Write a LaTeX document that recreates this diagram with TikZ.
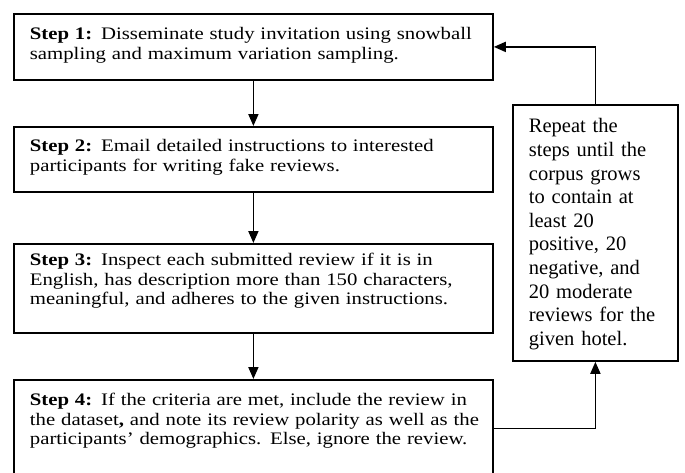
\documentclass[tikz,border=0pt]{standalone}
\usepackage{fontspec}
\setmainfont{Liberation Serif}
\newfontfamily\stepfont[FakeStretch=1.18]{Liberation Serif}
\usepackage{tikz}
\usetikzlibrary{arrows.meta}
\newcommand{\fcstep}[5] {\node at (#1) (#2) [anchor=north west, draw, line width=0.9pt, inner xsep=8pt, inner ysep=0pt, text width=223.5pt, align=left, text height=#3, text depth=#4, font=\stepfont\fontsize{8.8}{9.6}\selectfont] {#5};}
\newcommand{\fcnote}[5] {\node at (#1) (#2) [anchor=north west, draw, line width=0.9pt, inner xsep=8pt, inner ysep=0pt, text width=66.5pt, align=left, text height=#3, text depth=#4, font=\fontsize{10.25}{11.8}\selectfont] {#5};}
\newcommand{\fcarrow}[2] {\draw [-{Triangle[length=6pt,width=5pt]}, line width=0.9pt] (#1) -- (#2);}
\newcommand{\fcelbow}[3] {\draw [-{Triangle[length=6pt,width=5pt]}, line width=0.9pt] (#1) #3 (#2);}
\begin{document}
\begin{tikzpicture}[x=0.5pt,y=-0.5pt]
\useasboundingbox (0,0) rectangle (685,472);
\fcstep {13,13} {step1} {13pt} {20pt} {\textbf{Step 1:} Disseminate study invitation using snowball\\ sampling and maximum variation sampling.}
\fcstep {13,126} {step2} {12.5pt} {20pt} {\textbf{Step 2:} Email detailed instructions to interested\\ participants for writing fake reviews.}
\fcstep {13,243} {step3} {11pt} {33.5pt} {\textbf{Step 3:} Inspect each submitted review if it is in\\ English, has description more than 150 characters,\\ meaningful, and adheres to the given instructions.}
\fcstep {13,379} {step4} {13pt} {35.5pt} {\textbf{Step 4:} If the criteria are met, include the review in\\ \mbox{the dataset\textbf{,} and note its review polarity as well as the}\\ participants’ demographics. Else, ignore the review.}
\fcnote {512,104} {repeat} {14pt} {114pt} {Repeat the\\ steps until the\\ corpus grows\\ to contain at\\ least 20\\ positive, 20\\ negative, and\\ 20 moderate\\ reviews for the\\ given hotel.}

\fcarrow{step1}{step2}
\fcarrow{step2.south}{step3.north}
\fcarrow{step3.south}{step4.north}
\fcelbow{step4.east}{repeat.south}{-|}
\fcelbow{repeat.north}{step1.east}{|-}
\end{tikzpicture}
\end{document}
